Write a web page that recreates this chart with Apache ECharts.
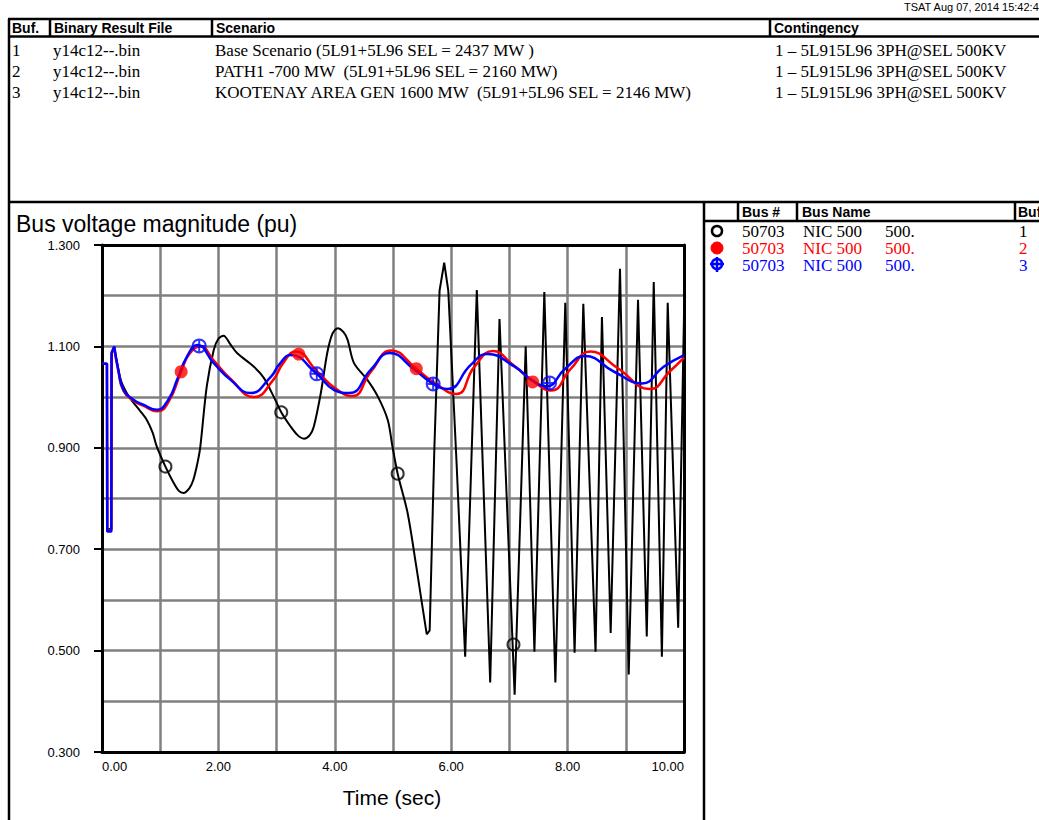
<!DOCTYPE html>
<html>
<head>
<meta charset="utf-8">
<script src="https://cdn.jsdelivr.net/npm/echarts@6/dist/echarts.min.js"></script>
<style>
html,body{margin:0;padding:0;background:#fff;}
#chart{width:1039px;height:820px;}
</style>
</head>
<body>
<div id="chart"></div>
<script>
// ---------- data ----------
const timeRange = [0, 10];
const voltRange = [0.3, 1.3];

const tableHeaders = ['Buf.', 'Binary Result File', 'Scenario', 'Contingency'];
const bufIds = ['1', '2', '3'];
const resultFiles = ['y14c12--.bin', 'y14c12--.bin', 'y14c12--.bin'];
const scenarios = [
  'Base Scenario (5L91+5L96 SEL = 2437 MW )',
  'PATH1 -700 MW  (5L91+5L96 SEL = 2160 MW)',
  'KOOTENAY AREA GEN 1600 MW  (5L91+5L96 SEL = 2146 MW)'
];
const contingencies = [
  '1 \u2013 5L915L96 3PH@SEL 500KV',
  '1 \u2013 5L915L96 3PH@SEL 500KV',
  '1 \u2013 5L915L96 3PH@SEL 500KV'
];
const legendHeaders = ['Bus #', 'Bus Name', 'Buf'];
const busNumbers = ['50703', '50703', '50703'];
const busNames = ['NIC 500', 'NIC 500', 'NIC 500'];
const busKv = ['500.', '500.', '500.'];

// Buf 1 (black)
const buf1 = [[0,1.066],[0.085,1.066],[0.09,0.74],[0.16,0.74],[0.165,1.085],[0.21,1.099],
  [0.28,1.055],[0.34,1.028],[0.45,1.003],[0.54,0.989],[0.66,0.972],[0.77,0.955],[0.87,0.930],[0.94,0.903],
  [1.09,0.863],[1.23,0.831],[1.32,0.815],[1.40,0.811],[1.50,0.820],[1.57,0.837],[1.64,0.870],[1.69,0.903],
  [1.80,1.021],[1.92,1.093],[2.00,1.115],[2.09,1.121],[2.20,1.105],[2.32,1.087],[2.61,1.060],[2.78,1.038],
  [2.95,1.001],[3.08,0.970],[3.24,0.942],[3.36,0.925],[3.47,0.918],[3.57,0.925],[3.64,0.942],[3.76,1.008],
  [3.87,1.087],[3.96,1.125],[4.05,1.136],[4.15,1.128],[4.22,1.113],[4.33,1.067],[4.56,1.034],[4.74,1.001],
  [4.91,0.955],[4.99,0.903],[5.08,0.849],[5.25,0.772],[5.40,0.666],[5.48,0.606],[5.58,0.532],
  [5.63,0.540],[5.71,0.896],[5.80,1.210],[5.88,1.265],[5.95,1.210],[6.09,0.876],[6.24,0.488],[6.44,1.211],
  [6.67,0.437],[6.83,1.154],[7.09,0.413],[7.28,1.100],[7.43,0.498],[7.60,1.207],[7.79,0.437],[7.96,1.186],
  [8.12,0.496],[8.27,1.184],[8.48,0.498],[8.59,1.158],[8.74,0.535],[8.90,1.253],[9.05,0.453],[9.21,1.192],
  [9.36,0.528],[9.48,1.227],[9.62,0.488],[9.72,1.186],[9.90,0.545],[10.0,1.162]];

// Buf 2 (red)
const buf2 = [[0,1.066],[0.085,1.066],[0.09,0.738],[0.16,0.738],[0.165,1.085],[0.21,1.098],
  [0.28,1.052],[0.37,1.012],[0.54,0.993],[0.71,0.983],[0.95,0.972],[1.14,0.990],[1.36,1.050],[1.50,1.085],
  [1.69,1.100],[1.92,1.072],[2.21,1.036],[2.61,1.000],[2.95,1.035],[3.10,1.065],[3.33,1.090],[3.70,1.050],
  [4.00,1.018],[4.30,1.002],[4.62,1.050],[4.97,1.092],[5.40,1.056],[5.71,1.028],[6.09,1.006],[6.40,1.060],
  [6.72,1.091],[7.05,1.065],[7.40,1.032],[7.72,1.013],[8.05,1.055],[8.39,1.090],[8.85,1.058],[9.42,1.016],
  [9.75,1.050],[10.0,1.078]];

// Buf 3 (blue)
const buf3 = [[0,1.066],[0.085,1.066],[0.09,0.735],[0.16,0.735],[0.165,1.088],[0.21,1.100],
  [0.28,1.054],[0.37,1.014],[0.54,0.995],[0.71,0.985],[0.94,0.975],[1.14,0.995],[1.29,1.034],[1.46,1.080],
  [1.64,1.103],[1.92,1.067],[2.21,1.034],[2.55,1.008],[2.90,1.040],[3.05,1.065],[3.24,1.083],[3.69,1.046],
  [3.99,1.014],[4.25,1.008],[4.62,1.054],[4.94,1.087],[5.37,1.054],[5.69,1.026],[5.94,1.016],[6.34,1.064],
  [6.62,1.085],[7.09,1.060],[7.38,1.034],[7.64,1.021],[7.95,1.055],[8.30,1.081],[8.80,1.050],[9.28,1.027],
  [9.65,1.060],[10.0,1.083]];

// curve markers
const buf1Markers = [[1.09,0.863],[3.08,0.970],[5.08,0.849],[7.07,0.512]];
const buf2Markers = [[1.36,1.050],[3.38,1.085],[5.40,1.056],[7.40,1.030]];
const buf3Markers = [[1.67,1.101],[3.69,1.046],[5.69,1.026],[7.69,1.028]];

// ---------- chart ----------
const BLACK = '#000000', RED = '#ff0000', BLUE = '#0000ff', GRID = '#808080';
const SANS = 'Liberation Sans, Arial, sans-serif';
const SERIF = 'Liberation Serif, Times New Roman, serif';
const FAULT_END = 0.21, FAST_START = 5.58;

const chart = echarts.init(document.getElementById('chart'), null, {renderer: 'svg'});

const crossCircle = 'path://M-10,0A10,10,0,1,1,10,0A10,10,0,1,1,-10,0ZM-10,0L10,0M0,-10L0,10';

function line(data, color, width, smooth, z) {
  return {type: 'line', data: data, showSymbol: false, symbol: 'none', smooth: smooth,
    lineStyle: {color: color, width: width}, itemStyle: {color: color}, z: z, silent: true, animation: false, clip: true};
}

const series = [
  line(buf1.filter(p => p[0] <= FAULT_END), BLACK, 2, false, 2),
  line(buf1.filter(p => p[0] >= FAULT_END && p[0] <= FAST_START), BLACK, 2, 0.3, 2),
  line(buf1.filter(p => p[0] >= FAST_START), BLACK, 2, false, 2),
  line(buf2.filter(p => p[0] <= FAULT_END), RED, 2.5, false, 3),
  line(buf2.filter(p => p[0] >= FAULT_END), RED, 2.5, 0.5, 3),
  line(buf3.filter(p => p[0] <= FAULT_END), BLUE, 2.5, false, 4),
  line(buf3.filter(p => p[0] >= FAULT_END), BLUE, 2.5, 0.5, 4),
  {type: 'scatter', data: buf1Markers, symbol: 'circle', symbolSize: 12, z: 5, silent: true, animation: false,
    itemStyle: {color: 'rgba(0,0,0,0)', borderColor: BLACK, borderWidth: 2}},
  {type: 'scatter', data: buf2Markers, symbol: 'circle', symbolSize: 13, z: 5, silent: true, animation: false,
    itemStyle: {color: RED}},
  {type: 'scatter', data: buf3Markers, symbol: crossCircle, symbolSize: 13, z: 6, silent: true, animation: false,
    itemStyle: {color: 'rgba(0,0,0,0)', borderColor: BLUE, borderWidth: 2}}
];

function txt(x, y, text, opts) {
  opts = opts || {};
  return {type: 'text', x: x, y: y, silent: true, z: 100,
    style: {text: text, fill: opts.color || BLACK, font: opts.font || ('17px ' + SERIF),
      textAlign: opts.align || 'left', textVerticalAlign: 'middle', verticalAlign: 'middle'}};
}
function seg(x1, y1, x2, y2, w) {
  return {type: 'line', silent: true, z: 99, shape: {x1: x1, y1: y1, x2: x2, y2: y2},
    style: {stroke: BLACK, lineWidth: w || 2}};
}

const graphics = [];
// timestamp
graphics.push(txt(904, 7, 'TSAT Aug 07, 2014 15:42:4', {font: '11px ' + SANS}));
// top table frame
graphics.push(seg(8, 19, 1039, 19, 2.5));
graphics.push(seg(9, 19, 9, 820, 2.5));
graphics.push(seg(8, 36.5, 1039, 36.5, 2.5));
[50, 212, 770].forEach(x => graphics.push(seg(x, 19, x, 36.5, 2.5)));
graphics.push(seg(8, 202, 1039, 202, 2.5));
// lower panel separator
graphics.push(seg(704, 202, 704, 820, 2.5));
// legend header
graphics.push(seg(704, 221, 1039, 221, 2.5));
[738, 797, 1015].forEach(x => graphics.push(seg(x, 202, x, 221, 2.5)));

// table header text
const hdrX = [12, 54, 216, 774];
tableHeaders.forEach((h, i) => graphics.push(txt(hdrX[i], 28, h, {font: 'bold 14px ' + SANS})));
// table rows
const rowY = [50, 71, 92];
bufIds.forEach((b, i) => {
  graphics.push(txt(12, rowY[i], b));
  graphics.push(txt(53, rowY[i], resultFiles[i]));
  graphics.push(txt(215, rowY[i], scenarios[i]));
  graphics.push(txt(775, rowY[i], contingencies[i]));
});

// legend header text
const lhX = [742, 802, 1018];
legendHeaders.forEach((h, i) => graphics.push(txt(lhX[i], 212, h, {font: 'bold 14px ' + SANS})));
// legend rows
const legY = [231, 248, 265];
const legColors = [BLACK, RED, BLUE];
bufIds.forEach((b, i) => {
  const c = legColors[i];
  graphics.push(txt(742, legY[i], busNumbers[i], {color: c}));
  graphics.push(txt(803, legY[i], busNames[i], {color: c}));
  graphics.push(txt(885, legY[i], busKv[i], {color: c}));
  graphics.push(txt(1019, legY[i], b, {color: c}));
});
// legend symbols
graphics.push({type: 'circle', silent: true, z: 100, shape: {cx: 717, cy: 231, r: 5},
  style: {fill: 'none', stroke: BLACK, lineWidth: 2.5}});
graphics.push({type: 'circle', silent: true, z: 100, shape: {cx: 717, cy: 248, r: 6},
  style: {fill: RED, stroke: RED, lineWidth: 1}});
graphics.push({type: 'circle', silent: true, z: 100, shape: {cx: 717, cy: 264, r: 5},
  style: {fill: 'none', stroke: BLUE, lineWidth: 2.5}});
graphics.push({type: 'line', silent: true, z: 100, shape: {x1: 710, y1: 264, x2: 724, y2: 264},
  style: {stroke: BLUE, lineWidth: 2.5}});
graphics.push({type: 'line', silent: true, z: 100, shape: {x1: 717, y1: 257, x2: 717, y2: 272},
  style: {stroke: BLUE, lineWidth: 2.5}});

// axis titles
graphics.push(txt(16, 224, 'Bus voltage magnitude (pu)', {font: '23px ' + SANS}));
graphics.push(txt(392, 797, 'Time (sec)', {font: '21px ' + SANS, align: 'center'}));

const gridLine = {color: GRID, width: 2.5};

const option = {
  backgroundColor: '#ffffff',
  animation: false,
  grid: {left: 102, top: 245, width: 582, height: 507, containLabel: false},
  xAxis: [
    {type: 'value', min: timeRange[0], max: timeRange[1], interval: 2,
      axisLine: {onZero: false, lineStyle: {color: BLACK, width: 3}},
      axisTick: {show: false},
      axisLabel: {formatter: v => v.toFixed(2), fontSize: 13, color: BLACK, fontFamily: SANS, margin: 8,
        alignMinLabel: 'left', alignMaxLabel: 'right'},
      splitLine: {show: true, lineStyle: gridLine},
      minorTick: {show: false, splitNumber: 2},
      minorSplitLine: {show: true, lineStyle: gridLine}},
    {type: 'value', position: 'top', min: timeRange[0], max: timeRange[1], interval: 2,
      axisLine: {onZero: false, lineStyle: {color: BLACK, width: 3}},
      axisTick: {show: false}, axisLabel: {show: false}, splitLine: {show: false}}
  ],
  yAxis: [
    {type: 'value', min: voltRange[0], max: voltRange[1], interval: 0.2,
      axisLine: {onZero: false, lineStyle: {color: BLACK, width: 3}},
      axisTick: {show: true, length: 8, lineStyle: {color: BLACK, width: 2}},
      axisLabel: {formatter: v => v.toFixed(3), fontSize: 13, color: BLACK, fontFamily: SANS, margin: 22},
      splitLine: {show: true, lineStyle: gridLine},
      minorTick: {show: false, splitNumber: 2},
      minorSplitLine: {show: true, lineStyle: gridLine}},
    {type: 'value', position: 'right', min: voltRange[0], max: voltRange[1], interval: 0.2,
      axisLine: {onZero: false, lineStyle: {color: BLACK, width: 3}},
      axisTick: {show: false}, axisLabel: {show: false}, splitLine: {show: false}}
  ],
  series: series,
  graphic: graphics
};
chart.setOption(option);
</script>
</body>
</html>
